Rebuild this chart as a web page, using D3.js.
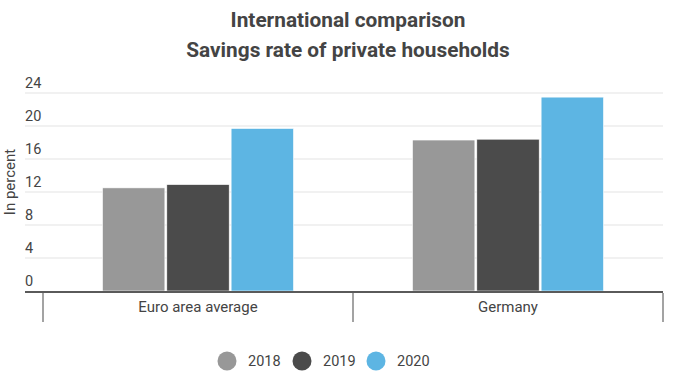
<!DOCTYPE html>
<html><head><meta charset="utf-8">
<script src="https://cdn.jsdelivr.net/npm/d3@7"></script>
<style>body{margin:0;background:#fff;font-family:Roboto,sans-serif}</style>
</head><body><svg id="c" width="678" height="381"></svg>
<script>
const categories = ["Euro area average", "Germany"];
const seriesNames = ["2018", "2019", "2020"];
const values2018 = [12.5, 18.3];
const values2019 = [12.9, 18.4];
const values2020 = [19.7, 23.5];
const yTicks = [0, 4, 8, 12, 16, 20, 24];
const colors = ["#989898", "#4b4b4b", "#5db5e3"];

(function () {
const series = [values2018, values2019, values2020];
const svg = d3.select("#c");
const pLeft = 25, pRight = 663, x0 = 43, pTop = 93, pBottom = 291;
const x = d3.scaleBand().domain(categories).range([x0, pRight]).paddingInner(0).paddingOuter(0);
const y = d3.scaleLinear().domain([0, 24]).range([pBottom, pTop]);
const groupW = 191;
const xs = d3.scaleBand().domain(seriesNames).range([0, groupW]).paddingInner(0.03);

// title
svg.append("text").attr("x", 348).attr("y", 27).attr("text-anchor", "middle")
  .attr("font-size", 20.8).attr("font-weight", "bold").attr("fill", "#444").text("International comparison");
svg.append("text").attr("x", 348).attr("y", 57).attr("text-anchor", "middle")
  .attr("font-size", 20.8).attr("font-weight", "bold").attr("fill", "#444").text("Savings rate of private households");

// gridlines + labels
const g = svg.append("g");
yTicks.forEach(t => {
  if (t > 0) g.append("line").attr("x1", pLeft).attr("x2", pRight).attr("y1", y(t)).attr("y2", y(t))
    .attr("stroke", "#e3e3e3").attr("stroke-width", 1.2);
  g.append("text").attr("x", pLeft).attr("y", y(t) - 5).attr("font-size", 14.5).attr("fill", "#444").text(t);
});

// y title
svg.append("text").attr("transform", "translate(15,182) rotate(-90)").attr("text-anchor", "middle")
  .attr("font-size", 15).attr("fill", "#444").text("In percent");

// bars
categories.forEach((c, i) => {
  const gx = x(c) + (x.bandwidth() - groupW) / 2;
  seriesNames.forEach((s, j) => {
    svg.append("rect").attr("x", gx + xs(s)).attr("width", xs.bandwidth())
      .attr("y", y(series[j][i])).attr("height", y(0) - y(series[j][i]))
      .attr("fill", colors[j]).attr("stroke", "#fff").attr("stroke-width", 0.6);
  });
});

// x axis
svg.append("line").attr("x1", pLeft).attr("x2", pRight).attr("y1", 292).attr("y2", 292)
  .attr("stroke", "#5a5a5a").attr("stroke-width", 2);
const ticksX = [x0].concat(categories.map(c => x(c) + x.bandwidth()));
ticksX.forEach(tx => svg.append("line").attr("x1", tx).attr("x2", tx).attr("y1", 293).attr("y2", 322)
  .attr("stroke", "#666").attr("stroke-width", 1.2));
categories.forEach(c => svg.append("text").attr("x", x(c) + x.bandwidth() / 2).attr("y", 312)
  .attr("text-anchor", "middle").attr("font-size", 15).attr("fill", "#444").text(c));

// legend
const lx = [227, 302, 376];
seriesNames.forEach((s, j) => {
  svg.append("circle").attr("cx", lx[j]).attr("cy", 361).attr("r", 9.5).attr("fill", colors[j]);
  svg.append("text").attr("x", lx[j] + 21).attr("y", 366).attr("font-size", 14.5).attr("fill", "#444").text(s);
});
})();
</script></body></html>
